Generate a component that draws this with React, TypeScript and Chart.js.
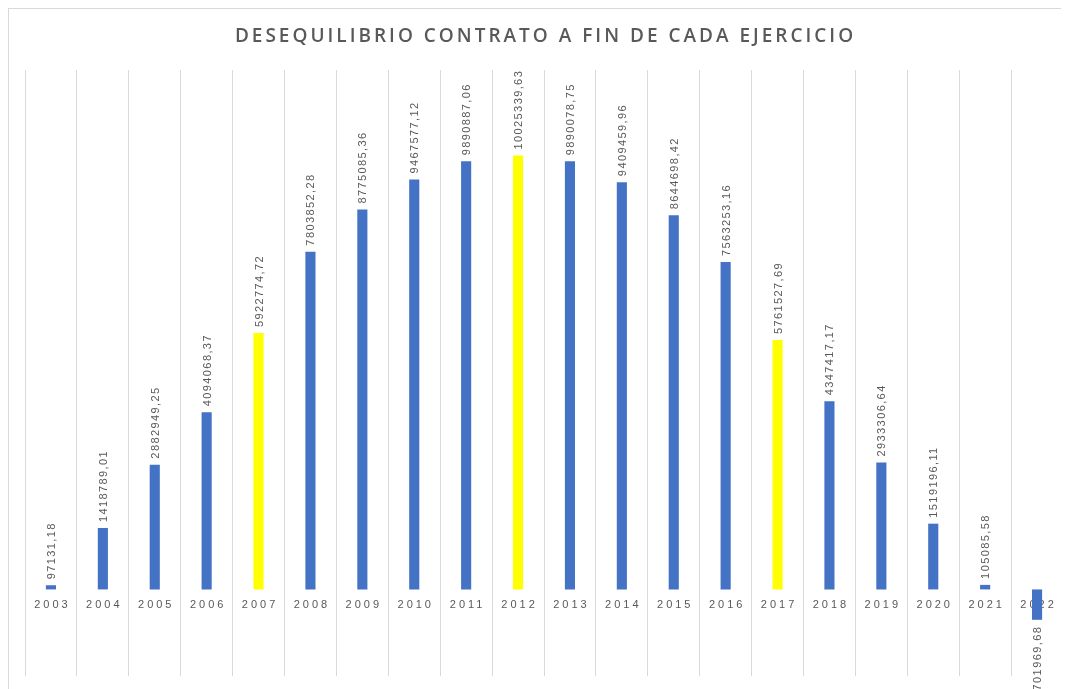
import React, { useEffect, useRef } from "react";
import { Chart, registerables } from "chart.js";

Chart.register(...registerables);

const TITLE = "DESEQUILIBRIO CONTRATO A FIN DE CADA EJERCICIO";

const years = [
  "2003", "2004", "2005", "2006", "2007", "2008", "2009", "2010", "2011", "2012",
  "2013", "2014", "2015", "2016", "2017", "2018", "2019", "2020", "2021", "2022",
];

const values = [
  97131.18, 1418789.01, 2882949.25, 4094068.37, 5922774.72, 7803852.28, 8775085.36,
  9467577.12, 9890887.06, 10025339.63, 9890078.75, 9409459.96, 8644698.42, 7563253.16,
  5761527.69, 4347417.17, 2933306.64, 1519196.11, 105085.58, -701969.68,
];

const highlightedYears = ["2007", "2012", "2017"];

const BLUE = "#4472C4";
const YELLOW = "#FFFF00";
const TEXT = "#595959";

const fmt = (v: number) => v.toFixed(2).replace(".", ",");

const textPlugin = {
  id: "customText",
  beforeDatasetsDraw(chart: any) {
    const { ctx, chartArea, scales } = chart;
    const x = scales.x;
    const y = scales.y;
    const zero = y.getPixelForValue(0);
    ctx.save();
    // title
    ctx.font = "600 19px 'Open Sans'";
    (ctx as any).letterSpacing = "3px";
    ctx.fillStyle = TEXT;
    ctx.textAlign = "center";
    ctx.textBaseline = "middle";
    ctx.fillText(TITLE, (chartArea.left + chartArea.right) / 2 + 1.5, 28);
    // category labels
    ctx.font = "11px 'Liberation Sans'";
    (ctx as any).letterSpacing = "3px";
    ctx.fillStyle = TEXT;
    years.forEach((yr, i) => {
      ctx.fillText(yr, x.getPixelForValue(i) + 1.5, zero + 16);
    });
    ctx.restore();
  },
  afterDatasetsDraw(chart: any) {
    const { ctx } = chart;
    const meta = chart.getDatasetMeta(0);
    ctx.save();
    ctx.font = "11px 'Liberation Sans'";
    (ctx as any).letterSpacing = "1.4px";
    ctx.fillStyle = TEXT;
    ctx.textBaseline = "middle";
    meta.data.forEach((bar: any, i: number) => {
      const v = values[i];
      const gap = 6;
      ctx.save();
      if (v >= 0) {
        ctx.translate(bar.x + 1, bar.y - gap);
        ctx.rotate(-Math.PI / 2);
        ctx.textAlign = "left";
      } else {
        ctx.translate(bar.x + 1, bar.y + gap);
        ctx.rotate(-Math.PI / 2);
        ctx.textAlign = "right";
      }
      ctx.fillText(fmt(v), 0, 0);
      ctx.restore();
    });
    ctx.restore();
  },
};

export default function App() {
  const ref = useRef<HTMLCanvasElement>(null);
  useEffect(() => {
    document.body.style.overflow = "hidden";
    if (!ref.current) return;
    const chart = new Chart(ref.current, {
      type: "bar",
      data: {
        labels: years,
        datasets: [
          {
            data: values,
            backgroundColor: years.map((y) => (highlightedYears.includes(y) ? YELLOW : BLUE)),
            barPercentage: 0.75,
            categoryPercentage: 0.26,
          },
        ],
      },
      options: {
        animation: false,
        responsive: true,
        maintainAspectRatio: false,
        layout: { padding: { left: 16, right: 6, top: 61, bottom: 13 } },
        plugins: {
          legend: { display: false },
          title: { display: false },
          tooltip: { enabled: false },
        },
        scales: {
          x: {
            position: { y: 0 } as any,
            ticks: { display: false },
            grid: { color: "#d9d9d9", lineWidth: 1, drawTicks: false, offset: true },
            border: { display: false },
          },
          y: {
            display: false,
            min: -2000000,
            max: 12000000,
          },
        },
      },
      plugins: [textPlugin],
    });
    return () => chart.destroy();
  }, []);
  return (
    <div
      style={{
        width: 1070,
        height: 690,
        borderTop: "1px solid #d9d9d9",
        borderLeft: "1px solid #d9d9d9",
        position: "relative",
        background: "#fff",
      }}
    >
      <div style={{ position: "absolute", left: 0, top: 0, width: 1060, height: 680 }}>
        <canvas ref={ref} />
      </div>
    </div>
  );
}
